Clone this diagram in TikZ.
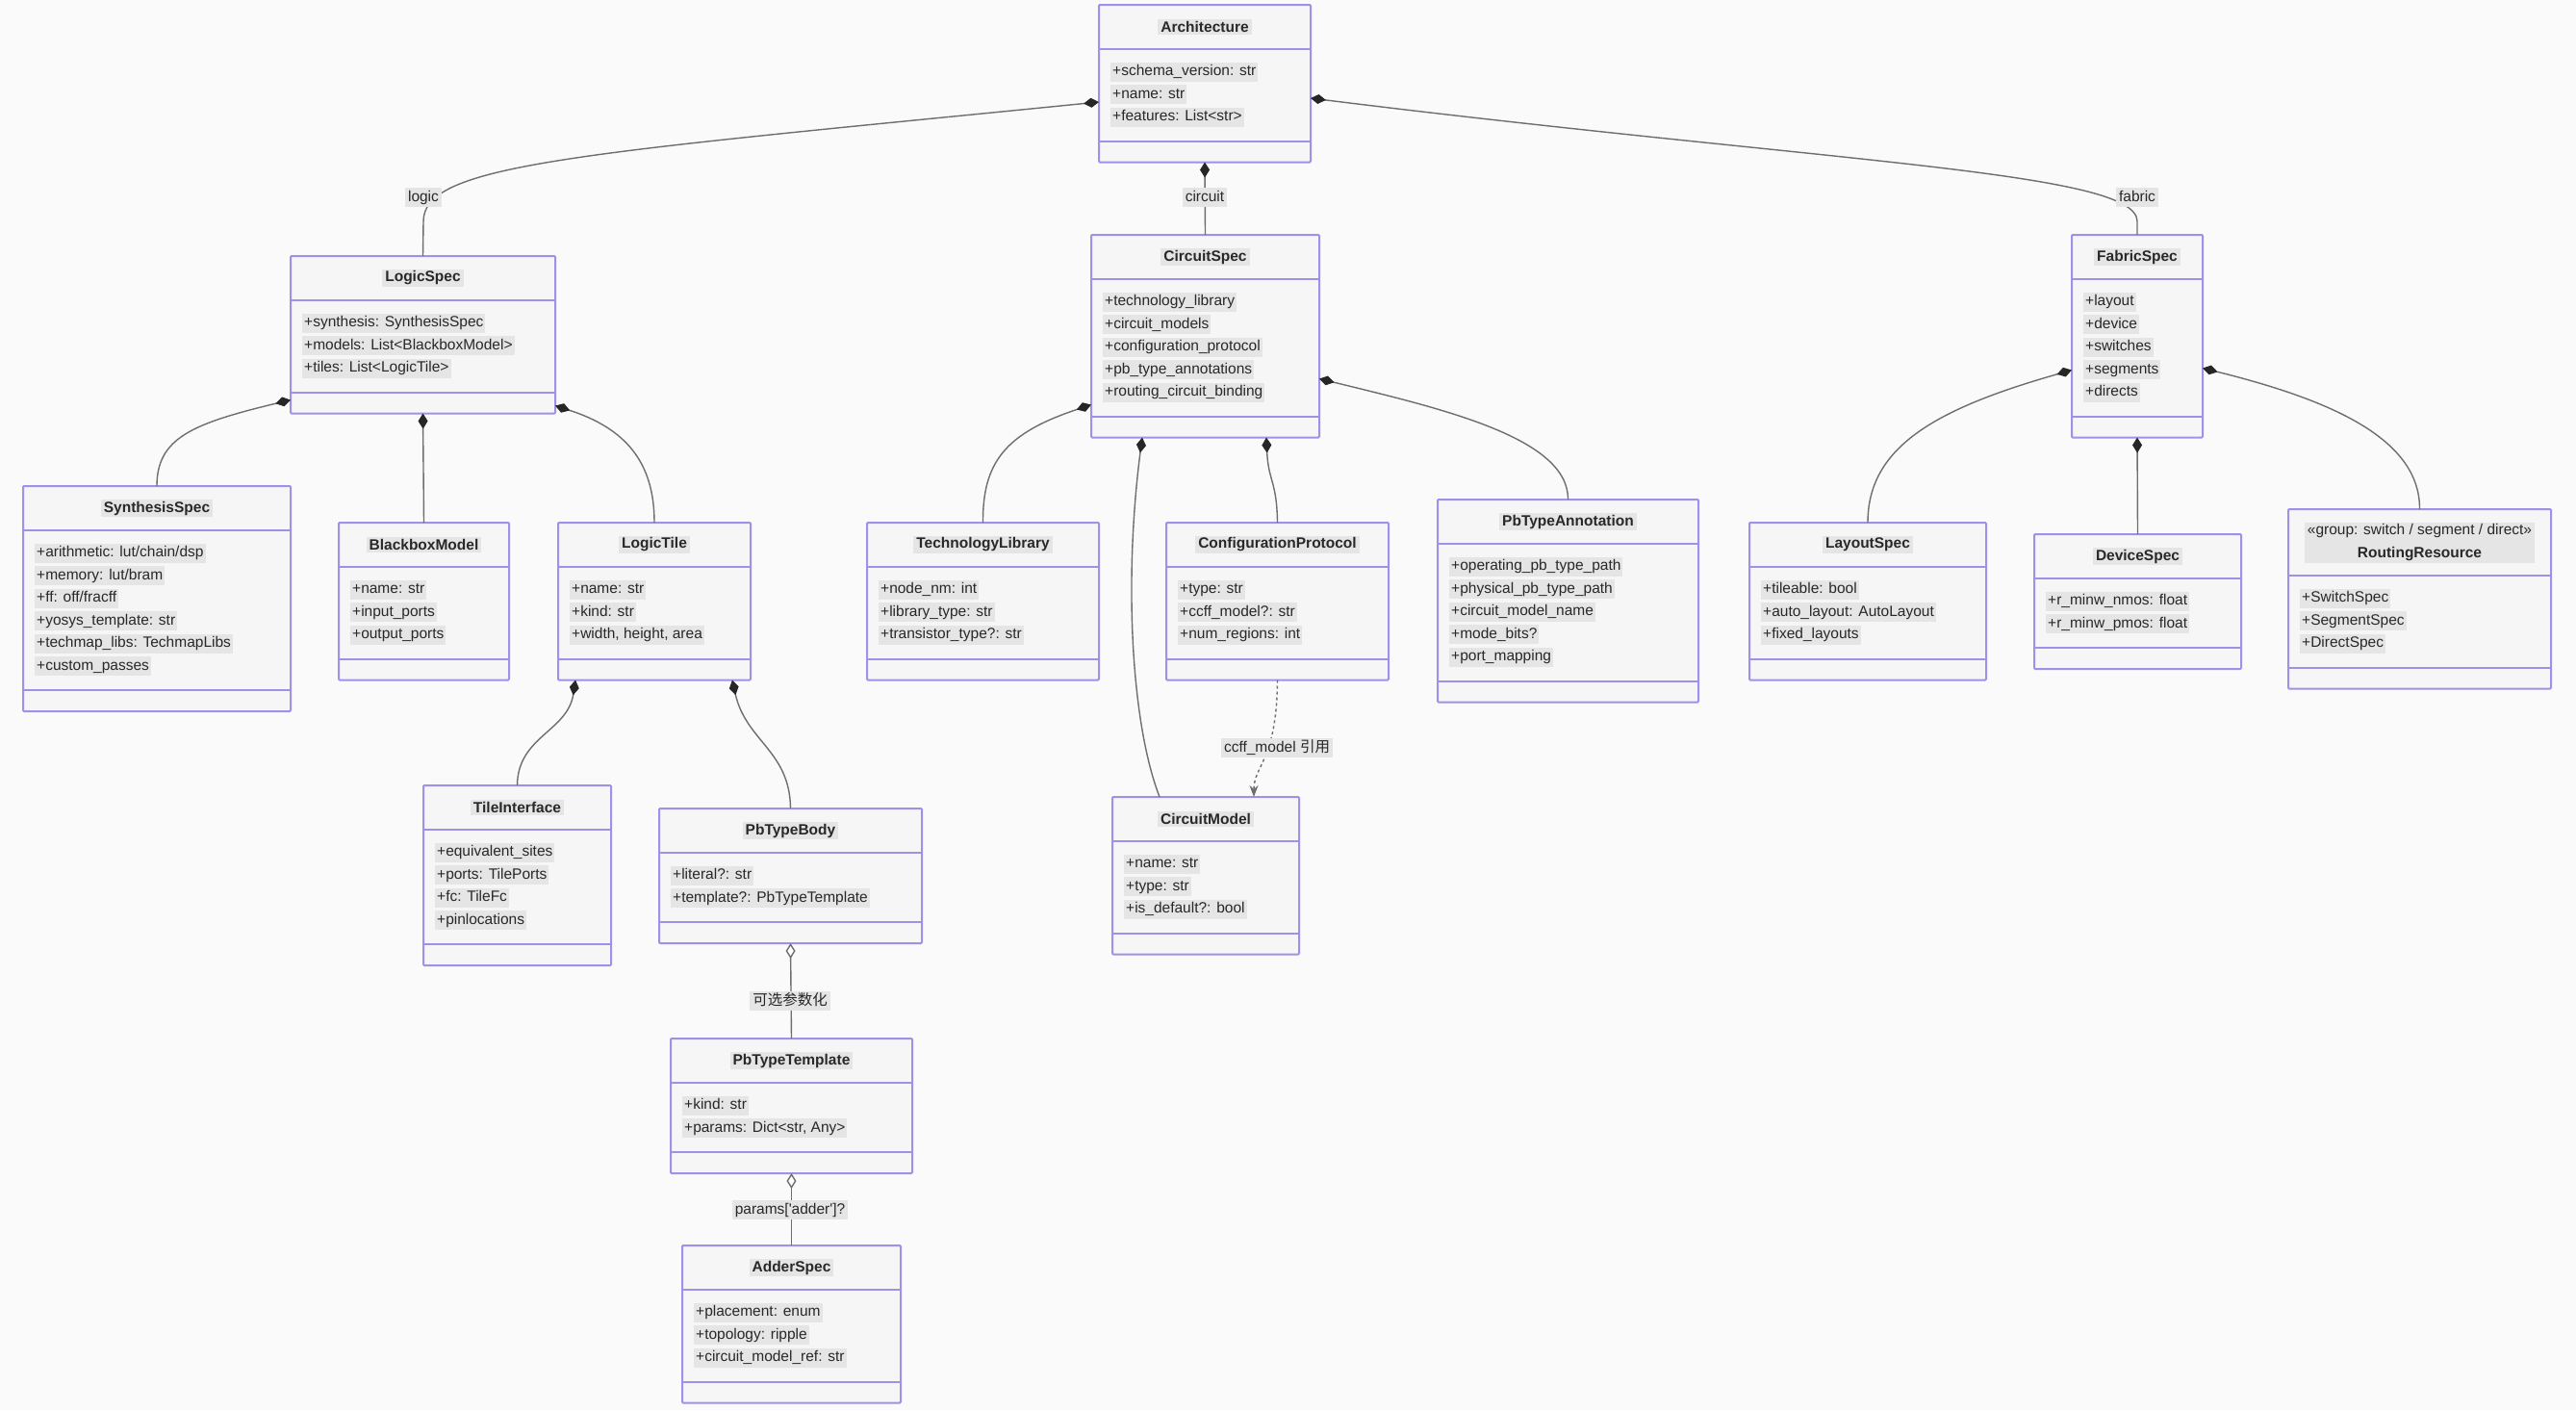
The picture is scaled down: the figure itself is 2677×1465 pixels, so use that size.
\documentclass[tikz,border=0pt]{standalone}
\usepackage{fontspec}
\newfontfamily\umlfont{Liberation Sans}
\newfontfamily\cjk{Noto Sans CJK SC}
\usetikzlibrary{arrows.meta,calc}
\definecolor{pagebg}{RGB}{250,250,250}
\definecolor{boxfill}{RGB}{246,246,246}
\definecolor{boxline}{RGB}{160,145,232}
\definecolor{txtbg}{RGB}{229,229,229}
\definecolor{txt}{RGB}{40,40,40}
\definecolor{linec}{RGB}{110,110,110}
\newcommand{\ufont}{\umlfont\fontsize{15.5}{23.5}\selectfont}
\tikzset{
  umlbox/.style={draw=boxline, line width=2pt, fill=boxfill, inner sep=0pt, outer sep=0pt, rounded corners=1pt},
  umldiv/.style={draw=boxline, line width=2pt},
  umltitle/.style={font={\ufont\bfseries}, text=txt, fill=txtbg, align=center, inner xsep=3pt, inner ysep=2pt},
  umlattr/.style={font=\ufont, text=txt, fill=txtbg, anchor=west, inner xsep=2pt, inner ysep=2pt, text height=12pt, text depth=4pt},
  elabel/.style={font=\ufont, text=txt, fill=txtbg, inner xsep=3pt, inner ysep=2pt, text height=12pt, text depth=4pt},
  conn/.style={draw=linec, line width=1.4pt},
  comp/.style={conn, arrows={Diamond[length=16pt,width=10pt,color=black!85]-}},
  aggr/.style={conn, arrows={Diamond[length=16pt,width=10pt,fill=white]-}},
  depend/.style={conn, dashed, arrows={-Stealth[length=12pt,width=9pt]}}
}
% name, x, y, width, header height, number of attributes, title, attributes
\newcommand{\umlclass}[8]{%
  \pgfmathsetmacro\umlH{#5+#6*23.5+47}%
  \pgfmathsetmacro\umlD{#5+#6*23.5+25}%
  \node[umlbox, minimum width=#4, minimum height=\umlH, anchor=north west] (#1) at (#2,#3) {};
  \draw[umldiv] ([yshift=-#5]#1.north west) -- ([yshift=-#5]#1.north east);
  \draw[umldiv] ([yshift=-\umlD]#1.north west) -- ([yshift=-\umlD]#1.north east);
  \node[umltitle] (#1-t) at ([yshift=-#5/2]#1.north) {#7};
  \foreach \a [count=\i from 0] in {#8} {
    \node[umlattr] (#1-a\i) at ([xshift=12, yshift={-(#5+23.5+23.5*\i)}]#1.north west) {\a};
  }
}
\begin{document}
\begin{tikzpicture}[x=1pt,y=-1pt]
\fill[pagebg] (0,0) rectangle (2677,1465);
\useasboundingbox (0,0) rectangle (2677,1465);

% ---------- classes ----------
\umlclass{arch}{1142}{5}{220}{46}{3}{Architecture}{+schema\_version: str, +name: str, +features: List<str>}
\umlclass{logic}{302}{266}{275}{46}{3}{LogicSpec}{+synthesis: SynthesisSpec, +models: List<BlackboxModel>, +tiles: List<LogicTile>}
\umlclass{circuit}{1134}{244}{237}{46}{5}{CircuitSpec}{+technology\_library, +circuit\_models, +configuration\_protocol, +pb\_type\_annotations, +routing\_circuit\_binding}
\umlclass{fabric}{2153}{244}{136}{46}{5}{FabricSpec}{+layout, +device, +switches, +segments, +directs}
\umlclass{synth}{24}{505}{278}{46}{6}{SynthesisSpec}{+arithmetic: lut/chain/dsp, +memory: lut/bram, +ff: off/fracff, +yosys\_template: str, +techmap\_libs: TechmapLibs, +custom\_passes}
\umlclass{bbox}{352}{543}{177}{46}{3}{BlackboxModel}{+name: str, +input\_ports, +output\_ports}
\umlclass{ltile}{580}{543}{200}{46}{3}{LogicTile}{+name: str, +kind: str, {+width, height, area}}
\umlclass{techlib}{901}{543}{241}{46}{3}{TechnologyLibrary}{+node\_nm: int, +library\_type: str, +transistor\_type?: str}
\umlclass{cprot}{1212}{543}{231}{46}{3}{ConfigurationProtocol}{+type: str, +ccff\_model?: str, +num\_regions: int}
\umlclass{pbann}{1494}{519}{271}{46}{5}{PbTypeAnnotation}{+operating\_pb\_type\_path, +physical\_pb\_type\_path, +circuit\_model\_name, +mode\_bits?, +port\_mapping}
\umlclass{layout}{1818}{543}{246}{46}{3}{LayoutSpec}{+tileable: bool, +auto\_layout: AutoLayout, +fixed\_layouts}
\umlclass{device}{2114}{555}{215}{46}{2}{DeviceSpec}{+r\_minw\_nmos: float, +r\_minw\_pmos: float}
\umlclass{routing}{2378}{529}{273}{69}{3}{{\mdseries «group: switch / segment / direct»}\\RoutingResource}{+SwitchSpec, +SegmentSpec, +DirectSpec}
\umlclass{tileif}{440}{816}{195}{46}{4}{TileInterface}{+equivalent\_sites, +ports: TilePorts, +fc: TileFc, +pinlocations}
\umlclass{pbbody}{685}{840}{273}{46}{2}{PbTypeBody}{+literal?: str, +template?: PbTypeTemplate}
\umlclass{cmodel}{1156}{828}{194}{46}{3}{CircuitModel}{+name: str, +type: str, +is\_default?: bool}
\umlclass{pbtpl}{697}{1079}{251}{46}{2}{PbTypeTemplate}{+kind: str, {+params: Dict<str, Any>}}
\umlclass{adder}{709}{1294}{227}{46}{3}{AdderSpec}{+placement: enum, +topology: ripple, +circuit\_model\_ref: str}

% ---------- connectors ----------
\draw[comp] ($(arch.north west)+(0,101)$) .. controls (600,160) and (440,170) .. (440,230) -- (logic.north);
\draw[comp] (arch.south) -- (circuit.north);
\draw[comp] ($(arch.north east)+(0,97)$) .. controls (1910,170) and (2221,178) .. (2221,230) -- (fabric.north);

\draw[comp] ($(logic.south west)+(0,-14)$) .. controls (200,440) and (163,455) .. (synth.north);
\draw[comp] (logic.south) -- (bbox.north);
\draw[comp] ($(logic.south east)+(0,-8)$) .. controls (650,445) and (680,480) .. (ltile.north);

\draw[comp] ($(ltile.south west)+(18,0)$) .. controls (590,760) and (538,765) .. (tileif.north);
\draw[comp] ($(ltile.south east)+(-19,0)$) .. controls (775,770) and (821,780) .. (pbbody.north);

\draw[aggr] (pbbody.south) -- (pbtpl.north);
\draw[aggr] (pbtpl.south) -- (adder.north);

\draw[comp] ($(circuit.south west)+(0,-34)$) .. controls (1045,450) and (1021,480) .. (techlib.north);
\draw[comp] ($(circuit.south west)+(53,0)$) .. controls (1168,600) and (1175,750) .. ($(cmodel.north west)+(49,0)$);
\draw[comp] ($(circuit.south west)+(182,0)$) .. controls (1318,500) and (1327,500) .. (cprot.north);
\draw[comp] ($(circuit.south east)+(0,-61)$) .. controls (1500,425) and (1630,455) .. (pbann.north);
\draw[depend] (cprot.south) .. controls (1327,790) and (1303,795) .. ($(cmodel.north west)+(147,0)$);

\draw[comp] ($(fabric.south west)+(0,-70)$) .. controls (2010,425) and (1941,465) .. (layout.north);
\draw[comp] (fabric.south) -- (device.north);
\draw[comp] ($(fabric.south east)+(0,-72)$) .. controls (2420,415) and (2515,455) .. (routing.north);

% ---------- connector labels ----------
\node[elabel] (lbl-logic) at (440,205) {logic};
\node[elabel] (lbl-circuit) at (1252,205) {circuit};
\node[elabel] (lbl-fabric) at (2221,205) {fabric};
\node[elabel] (lbl-ccff) at (1327,777) {ccff\_model {\cjk 引用}};
\node[elabel] (lbl-opt) at (821,1040) {{\cjk 可选参数化}};
\node[elabel] (lbl-params) at (821,1257) {params['adder']?};
\end{tikzpicture}
\end{document}
